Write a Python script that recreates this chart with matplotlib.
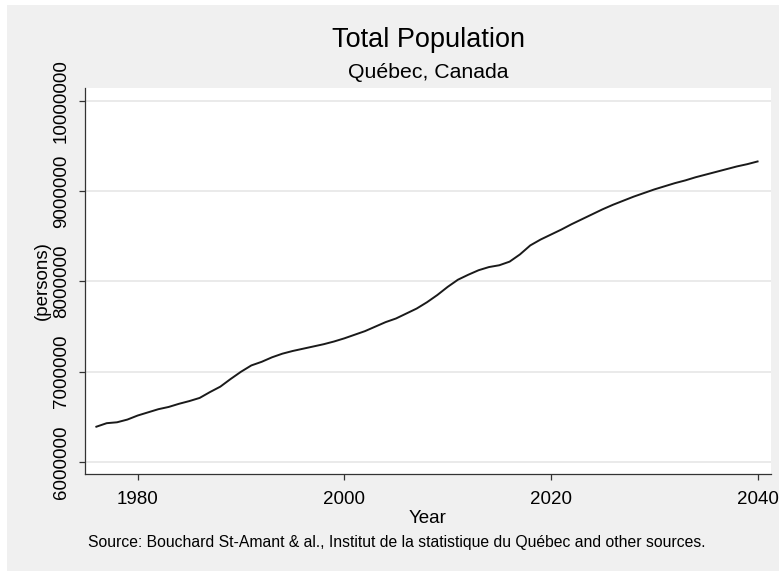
import matplotlib.pyplot as plt
from matplotlib.patches import Rectangle

plt.rcParams['font.family'] = ['Liberation Sans', 'DejaVu Sans']

# 数据：魁北克总人口
years = list(range(1976, 2041))
population = [
    6391000, 6430000, 6440000, 6470000, 6515000, 6550000, 6585000, 6610000,
    6645000, 6675000, 6710000, 6775000, 6835000, 6920000, 7000000, 7070000,
    7110000, 7160000, 7200000, 7230000, 7255000, 7280000, 7305000, 7335000,
    7370000, 7410000, 7450000, 7500000, 7550000, 7590000, 7645000, 7700000,
    7770000, 7850000, 7940000, 8020000, 8075000, 8125000, 8160000, 8180000,
    8220000, 8300000, 8400000, 8465000, 8520000, 8575000, 8635000, 8690000,
    8745000, 8800000, 8850000, 8895000, 8940000, 8980000, 9020000, 9055000,
    9090000, 9120000, 9155000, 9185000, 9215000, 9245000, 9275000, 9300000,
    9330000,
]
x_ticks = [1980, 2000, 2020, 2040]
y_ticks = [6000000, 7000000, 8000000, 9000000, 10000000]

fig = plt.figure(figsize=(7.79, 5.71), dpi=100)
fig.patch.set_facecolor('white')
# 灰色背景（左、上留白边）
fig.patches.append(Rectangle((7 / 779, 0), 1 - 7 / 779, 1 - 5 / 571,
                             transform=fig.transFigure, facecolor='#f0f0f0',
                             edgecolor='none', zorder=-10))

ax = fig.add_axes([85 / 779, 1 - 474 / 571, (771 - 85) / 779, (474 - 88) / 571])
ax.set_facecolor('white')
ax.plot(years, population, color='#1a1a1a', linewidth=1.4)

ax.set_xlim(1974.9, 2041.3)
ax.set_ylim(5867000, 10144000)
ax.set_xticks(x_ticks)
ax.set_yticks(y_ticks)
ax.set_yticklabels([str(v) for v in y_ticks], rotation=90, va='center')
ax.grid(axis='y', color='#e6e6e6', linewidth=1.2)
ax.set_axisbelow(True)

for s in ['top', 'right']:
    ax.spines[s].set_visible(False)
for s in ['left', 'bottom']:
    ax.spines[s].set_color('#333333')
    ax.spines[s].set_linewidth(0.9)
ax.tick_params(axis='both', direction='out', length=4, width=0.9,
               color='#333333', labelsize=13.5)
ax.tick_params(axis='x', pad=8)
ax.tick_params(axis='y', pad=7)

ax.set_xlabel('Year', fontsize=13.5, labelpad=2)
ax.set_ylabel('(persons)', fontsize=13.5, labelpad=1)

fig.text(428 / 779, 1 - 40 / 571, 'Total Population', fontsize=19.5,
         ha='center', va='center')
fig.text(428 / 779, 1 - 73 / 571, 'Québec, Canada', fontsize=15.3,
         ha='center', va='center')
fig.text(88 / 779, 1 - 543 / 571,
         'Source: Bouchard St-Amant & al., Institut de la statistique du Québec and other sources.',
         fontsize=11.3, ha='left', va='center')

fig.savefig('out.png', dpi=100)
